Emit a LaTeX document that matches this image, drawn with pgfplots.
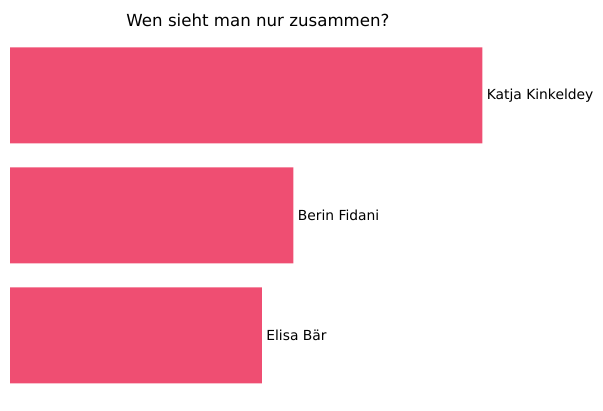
\documentclass[border=0pt]{standalone}
\usepackage{fontspec}
\setmainfont{DejaVu Sans}
\usepackage{pgfplots}
\pgfplotsset{compat=1.18}
\definecolor{barred}{RGB}{239,78,114}

\begin{document}
\begin{tikzpicture}
  \useasboundingbox (0,0) rectangle (603bp,411bp);
  \begin{axis}[
      at={(10bp,15.5bp)}, anchor=south west,
      scale only axis,
      width=496bp, height=360bp,
      xmin=0, xmax=15.75,
      ymin=-0.5, ymax=2.5,
      axis lines=none,
      xbar, bar width=96bp,
      point meta=explicit symbolic,
      nodes near coords,
      nodes near coords style={anchor=west, inner sep=0pt, xshift=4.2bp,
        font=\fontsize{13.9}{16}\selectfont, text=black},
      clip=false,
    ]
    % bars from the bottom (y=0) to the top (y=2)
    \addplot[fill=barred, draw=none] coordinates {
      (8,0) [Elisa Bär]
      (9,1) [Berin Fidani]
      (15,2) [Katja Kinkeldey]
    };
    \node[anchor=base, inner sep=0pt, yshift=8.6bp,
      font=\fontsize{16.7}{20}\selectfont] at (rel axis cs:0.5,1)
      {Wen sieht man nur zusammen?};
  \end{axis}
\end{tikzpicture}
\end{document}
